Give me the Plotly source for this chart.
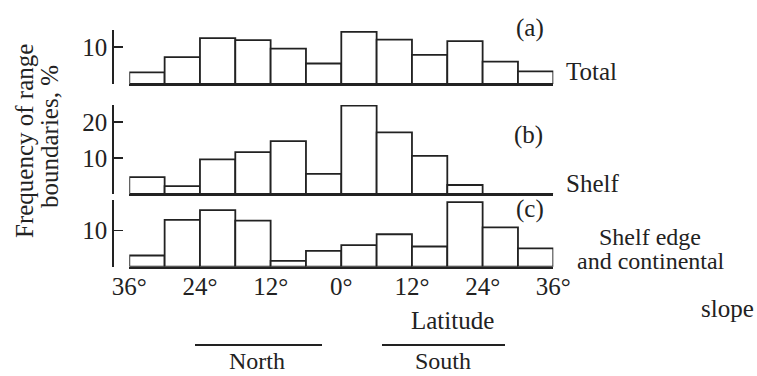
import plotly.graph_objects as go

# ---- data ----
bin_edges = [-36, -30, -24, -18, -12, -6, 0, 6, 12, 18, 24, 30, 36]
total = [3.1, 7.2, 12.3, 11.8, 9.5, 5.5, 14.0, 11.9, 7.8, 11.5, 6.0, 3.4]
shelf = [4.7, 2.2, 9.6, 11.6, 14.7, 5.6, 24.5, 17.1, 10.6, 2.5, 0, 0]
slope = [3.1, 13.0, 15.7, 12.8, 1.6, 4.4, 6.0, 9.0, 5.6, 17.9, 10.9, 5.1]
x_tickvals = [-36, -24, -12, 0, 12, 24, 36]
x_ticktext = ["36°", "24°", "12°", "0°", "12°", "24°", "36°"]

centers = [(a + b) / 2 for a, b in zip(bin_edges[:-1], bin_edges[1:])]
widths = [b - a for a, b in zip(bin_edges[:-1], bin_edges[1:])]

W, H = 757, 376
FONT = "Liberation Serif"
INK = "#222222"
FS = 25


def fx(px):
    return px / W


def fy(py):
    return 1 - py / H


fig = go.Figure()

panels = [
    # (values, xaxis, yaxis, bottom px, top px, range top, tickvals)
    (total, "x2", "y2", 84, 30, 14.5, [10]),
    (shelf, "x3", "y3", 194, 105, 24.7, [10, 20]),
    (slope, "x", "y", 266.7, 200, 18.5, [10]),
]

xdom = [fx(129.3), fx(553.3)]
ypos = fx(112.3)

layout_axes = {}
for vals, xa, ya, bot, top, rtop, tv in panels:
    fig.add_trace(go.Bar(
        x=centers, y=vals, width=widths, xaxis=xa, yaxis=ya,
        marker=dict(color="white", line=dict(color=INK, width=1.8)),
        showlegend=False, hoverinfo="skip",
    ))
    xkey = "xaxis" + xa[1:]
    ykey = "yaxis" + ya[1:]
    layout_axes[xkey] = dict(
        domain=xdom, range=[-36, 36], anchor=ya, showline=True,
        linecolor=INK, linewidth=1.8, showgrid=False, zeroline=False,
        ticks="", showticklabels=(xa == "x"), automargin=False,
        tickvals=x_tickvals, ticktext=x_ticktext, ticklabelstandoff=-4,
        tickfont=dict(family=FONT, size=FS, color=INK),
        fixedrange=True,
    )
    if xa != "x":
        layout_axes[xkey]["matches"] = "x"
    layout_axes[ykey] = dict(
        domain=[fy(bot), fy(top)], range=[0, rtop], anchor="free",
        position=ypos, showline=True, linecolor=INK, linewidth=1.8,
        showgrid=False, zeroline=False, ticks="inside", ticklen=9,
        tickwidth=1.5, tickcolor=INK, tickvals=tv, automargin=False,
        tickfont=dict(family=FONT, size=FS, color=INK), fixedrange=True,
    )

fig.update_layout(**layout_axes)


def ann(text, px, py, xanchor="center", size=FS, angle=0, yanchor="middle"):
    fig.add_annotation(
        text=text, x=fx(px), y=fy(py), xref="paper", yref="paper",
        xanchor=xanchor, yanchor=yanchor, showarrow=False, textangle=angle,
        font=dict(family=FONT, size=size, color=INK),
    )


ann("(a)", 530, 28)
ann("(b)", 528, 135)
ann("(c)", 530, 209)
ann("Total", 564, 72, "left")
ann("Shelf", 564, 183, "left")
ann("Shelf edge", 597, 237, "left", size=24)
ann("and continental", 575, 261, "left", size=24)
ann("slope", 699, 308, "left")
ann("Latitude", 452, 320)
ann("North", 257, 376, size=24, yanchor="bottom")
ann("South", 443, 376, size=24, yanchor="bottom")
ann("Frequency of range", 24, 141, angle=-90)
ann("boundaries, %", 50, 137, angle=-90)

for x0, x1 in [(195, 322), (382, 505)]:
    fig.add_shape(type="line", xref="paper", yref="paper",
                  x0=fx(x0), x1=fx(x1), y0=fy(345), y1=fy(345),
                  line=dict(color=INK, width=1.8))

fig.update_layout(
    template="none",
    width=W, height=H, autosize=False,
    margin=dict(l=0, r=0, t=0, b=0, pad=0, autoexpand=False),
    paper_bgcolor="white", plot_bgcolor="white",
    bargap=0, showlegend=False, hovermode=False,
    font=dict(family=FONT, size=FS, color=INK),
)

fig.write_html(
    "out.html",
    config={"displayModeBar": False, "staticPlot": True},
    post_script="document.body.style.margin='0';document.body.style.overflow='hidden';",
)
